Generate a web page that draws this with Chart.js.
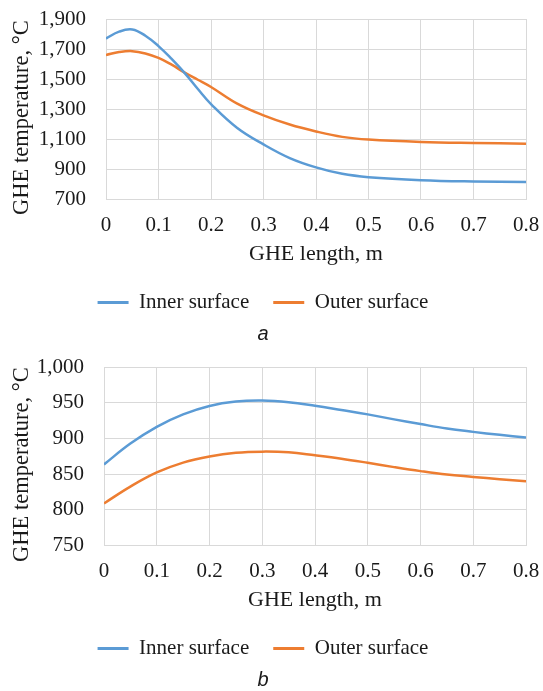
<!DOCTYPE html>
<html>
<head>
<meta charset="utf-8">
<script src="https://cdn.jsdelivr.net/npm/chart.js@4/dist/chart.umd.min.js"></script>
<style>
  html, body { margin: 0; padding: 0; background: #fff; }
  .wrap { width: 543px; position: relative; }
</style>
</head>
<body>
<div class="wrap" style="height:345px"><canvas id="chartA"></canvas></div>
<div class="wrap" style="height:346px"><canvas id="chartB"></canvas></div>
<script>
// (a) GHE temperature along the length
const xA = [0, 0.025, 0.05, 0.075, 0.1, 0.125, 0.15, 0.175, 0.2, 0.25, 0.3, 0.35, 0.4, 0.45, 0.5, 0.6, 0.7, 0.8]
const innerA = [1770, 1816, 1830, 1789, 1720, 1634, 1540, 1434, 1334, 1175, 1066, 975, 913, 870, 848, 828, 819, 815]
const outerA = [1661, 1680, 1686, 1671, 1641, 1596, 1543, 1496, 1448, 1337, 1259, 1198, 1152, 1116, 1098, 1082, 1075, 1071]

// (b)
const xB = [0, 0.05, 0.1, 0.15, 0.2, 0.25, 0.3, 0.35, 0.4, 0.45, 0.5, 0.55, 0.6, 0.65, 0.7, 0.75, 0.8]
const innerB = [863.5, 892.7, 916.2, 933.6, 945.4, 951.5, 952.9, 950.6, 945.6, 939.7, 933.6, 926.6, 920, 913.8, 909.1, 904.9, 901.1]
const outerB = [808.9, 832.4, 852.2, 866, 874.6, 879.8, 881.4, 880.4, 876.2, 871.5, 865.8, 859.7, 854.1, 849.3, 846, 842.7, 839.9]

const seriesNames = ["Inner surface", "Outer surface"]
const xTitle = "GHE length, m"
const yTitle = "GHE temperature, °C"

const blue = "#5b9bd5"
const orange = "#ed7d31"
const grid = "#d9d9d9"
const ink = "#1a1a1a"
const serif = "'Liberation Serif', 'Times New Roman', serif"

function makeChart(id, xs, inner, outer, yMin, yMax, yStep, caption, padTop, yWidth) {
    const toPts = (ys) => xs.map((x, i) => ({ x: x, y: ys[i] }))
    return new Chart(document.getElementById(id), {
        type: 'line',
        data: {
            datasets: [
                { label: seriesNames[0], data: toPts(inner), borderColor: blue, backgroundColor: blue },
                { label: seriesNames[1], data: toPts(outer), borderColor: orange, backgroundColor: orange }
            ]
        },
        options: {
            responsive: true,
            maintainAspectRatio: false,
            animation: false,
            layout: { padding: { top: padTop, right: 17, left: 0, bottom: 0 } },
            elements: {
                point: { radius: 0 },
                line: { borderWidth: 2.5, tension: 0.4 }
            },
            scales: {
                x: {
                    type: 'linear',
                    min: 0, max: 0.8,
                    grid: { color: grid, drawTicks: false },
                    border: { color: grid },
                    // tick padding should not push the plot edges in
                    afterFit: (scale) => { scale.paddingLeft = 0; scale.paddingRight = 0 },
                    ticks: {
                        stepSize: 0.1,
                        padding: 13,
                        color: ink,
                        font: { family: serif, size: 21 },
                        callback: (v) => String(+v.toFixed(1))
                    },
                    title: {
                        display: true, text: xTitle, color: ink,
                        font: { family: serif, size: 22 },
                        padding: { top: -10, bottom: 1 }
                    }
                },
                y: {
                    min: yMin, max: yMax,
                    grid: { color: grid, drawTicks: false },
                    border: { color: grid },
                    afterFit: (scale) => {
                        scale.width = yWidth
                        scale.paddingTop = 0
                        scale.paddingBottom = 0
                    },
                    ticks: {
                        stepSize: yStep,
                        autoSkip: false,
                        padding: 20,
                        color: ink,
                        font: { family: serif, size: 21 },
                        callback: (v) => v.toLocaleString('en-US')
                    },
                    title: {
                        display: true, text: yTitle + "   ", color: ink,
                        font: { family: serif, size: 22.5 },
                        padding: { top: 9, bottom: 0 }
                    }
                }
            },
            plugins: {
                legend: {
                    position: 'bottom',
                    labels: {
                        boxWidth: 31,
                        boxHeight: 3,
                        padding: 24,
                        color: ink,
                        font: { family: serif, size: 21 },
                        generateLabels: (chart) => Chart.defaults.plugins.legend.labels.generateLabels(chart)
                            .map((item) => Object.assign(item, { lineWidth: 0, fillStyle: item.strokeStyle }))
                    }
                },
                title: {
                    display: true,
                    position: 'bottom',
                    text: caption,
                    color: ink,
                    font: { family: "'Liberation Sans', Arial, sans-serif", size: 20, style: 'italic', weight: 'normal' },
                    padding: { top: -1, bottom: -1 }
                },
                tooltip: { enabled: false }
            }
        }
    })
}

makeChart('chartA', xA, innerA, outerA, 700, 1900, 200, 'a', 19, 106)
makeChart('chartB', xB, innerB, outerB, 750, 1000, 50, 'b', 22, 104)
</script>
</body>
</html>
